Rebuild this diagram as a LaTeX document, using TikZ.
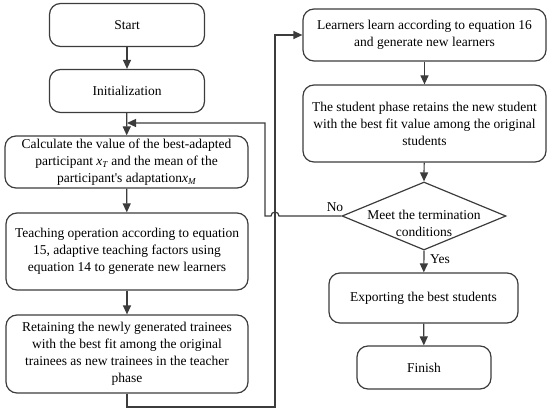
\documentclass[tikz,border=0pt]{standalone}
\usepackage{fontspec}
\setmainfont{Liberation Serif}
\usetikzlibrary{arrows.meta,shapes.geometric}
\newcommand{\xsub}[1]{\textit{x}\raisebox{-0.4ex}{\fontsize{9}{9}\selectfont\textit{#1}}}
\definecolor{ln}{HTML}{3C3C3C}
\begin{document}
\begin{tikzpicture}[x=1pt,y=-1pt,
  box/.style={draw=ln,line width=1.2pt,rounded corners=11pt,align=center,inner sep=2pt,
     font=\fontsize{13.5}{17}\selectfont},
  arr/.style={draw=ln,line width=1.2pt,-{Triangle[length=9pt,width=8pt]}},
  lbl/.style={font=\fontsize{13.5}{17}\selectfont,inner sep=0pt}]
\useasboundingbox (0,0) rectangle (550,412);
% left column
\node[box,minimum width=155pt,minimum height=43pt] (start) at (127,25) {Start};
\node[box,minimum width=155pt,minimum height=43pt] (init) at (127,91) {Initialization};
\node[box,minimum width=243pt,minimum height=52pt] (calc) at (126.5,162)
  {Calculate the value of the best-adapted\\participant \xsub{T} and the mean of the\\participant\textquotesingle s adaptation\xsub{M}};
\node[box,minimum width=242pt,minimum height=77pt] (teach) at (127,251.5)
  {Teaching operation according to equation\\15, adaptive teaching factors using\\equation 14 to generate new learners};
\node[box,minimum width=242pt,minimum height=78pt] (retain) at (127,354)
  {Retaining the newly generated trainees\\with the best fit among the original\\trainees as new trainees in the teacher\\phase};
% right column
\node[box,minimum width=243pt,minimum height=52pt] (learn) at (424.5,35)
  {Learners learn according to equation 16\\and generate new learners};
\node[box,minimum width=243pt,minimum height=77pt] (student) at (424.5,123.5)
  {The student phase retains the new student\\with the best fit value among the original\\students};
\node[draw=ln,line width=1.2pt,diamond,inner sep=0pt,minimum width=164pt,minimum height=68pt] (dec) at (424,216) {};
\node[lbl,align=center] (dectext) at (424,223) {Meet the termination\\conditions};
\node[box,minimum width=189pt,minimum height=50pt] (export) at (423.5,298) {Exporting the best students};
\node[box,minimum width=134pt,minimum height=43pt] (finish) at (424,367.5) {Finish};
% labels
\node[lbl] (no) at (335,207) {No};
\node[lbl] (yes) at (440,259) {Yes};
% helper coordinates
\coordinate (fb) at (127,123);
\coordinate (c1) at (275,407);
\coordinate (h1) at (279,216);
\coordinate (h2) at (265,216);
\coordinate (h3) at (265,123);
% connectors
\draw[arr] (start) -- (init);
\draw[arr] (init) -- (calc);
\draw[arr] (calc) -- (teach);
\draw[arr] (teach) -- (retain);
\draw[arr] (retain.south) |- (c1) |- (learn.west);
\draw[arr] (learn) -- (student);
\draw[arr] (student) -- (dec.north);
\draw[arr] (dec.south) -- (export);
\draw[arr] (export) -- (finish);
\draw[arr] (dec.west) -- (h1) arc[start angle=0,end angle=180,radius=4pt] -- (h2) -- (h3) -- (fb);
\end{tikzpicture}
\end{document}
